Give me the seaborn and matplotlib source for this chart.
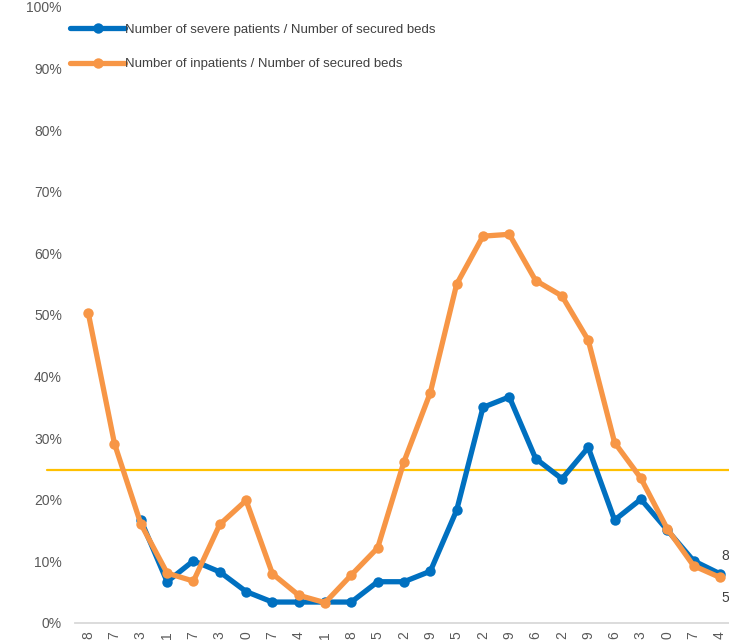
import numpy as np
import pandas as pd
import matplotlib
matplotlib.use("Agg")
import matplotlib.pyplot as plt
import seaborn as sns

# Week labels (only the final digit of each date is shown on the axis)
week_labels = ["8", "7", "3", "1", "7", "3", "0", "7", "4", "1", "8", "5", "2",
               "9", "5", "2", "9", "6", "2", "9", "6", "3", "0", "7", "4"]

# Ratio of severe patients to secured beds (no data for the first two weeks)
severe_ratio = [np.nan, np.nan, 0.167, 0.067, 0.101, 0.083, 0.051, 0.034, 0.034,
                0.034, 0.034, 0.067, 0.067, 0.084, 0.183, 0.350, 0.367, 0.267,
                0.234, 0.285, 0.167, 0.201, 0.151, 0.101, 0.080]

# Ratio of inpatients to secured beds
inpatient_ratio = [0.504, 0.291, 0.161, 0.081, 0.068, 0.160, 0.199, 0.080, 0.045,
                   0.033, 0.078, 0.122, 0.262, 0.374, 0.550, 0.628, 0.631, 0.556,
                   0.531, 0.459, 0.293, 0.235, 0.153, 0.093, 0.074]

threshold = 0.249

series_names = ["Number of severe patients / Number of secured beds",
                "Number of inpatients / Number of secured beds"]
series_colors = ["#0070C0", "#F79646"]

df = pd.DataFrame({
    "week": list(range(len(week_labels))) * 2,
    "ratio": severe_ratio + inpatient_ratio,
    "series": [series_names[0]] * len(week_labels) + [series_names[1]] * len(week_labels),
})

sns.set_style("white")
plt.rcParams["font.family"] = ["Liberation Sans", "DejaVu Sans"]

fig = plt.figure(figsize=(7.29, 6.42), dpi=100)
ax = fig.add_axes([0.1029, 0.0296, 0.9026, 0.9595])

sns.lineplot(data=df, x="week", y="ratio", hue="series", hue_order=series_names,
             palette=series_colors, marker="o", markersize=7.5, markeredgewidth=0,
             linewidth=3.8, ax=ax, legend=True, zorder=3)

# Reference line across the whole width
ax.axhline(threshold, xmin=-0.0426, xmax=1.0, color="#FFC000", linewidth=1.6,
           clip_on=False, zorder=2)

ax.set_xlim(-0.5, len(week_labels) - 0.5)
ax.set_ylim(0, 1)
ax.set_yticks(np.arange(0, 1.01, 0.1))
ax.set_yticklabels([f"{int(round(v * 100))}%" for v in np.arange(0, 1.01, 0.1)])
ax.set_xticks(range(len(week_labels)))
ax.set_xticklabels(week_labels, rotation=90, va="top")
ax.tick_params(axis="both", length=0, labelsize=10, labelcolor="#595959")
ax.tick_params(axis="y", pad=9.5)
ax.tick_params(axis="x", pad=6)
ax.set_xlabel("")
ax.set_ylabel("")

for side in ["left", "right", "top"]:
    ax.spines[side].set_visible(False)
ax.spines["bottom"].set_color("#D9D9D9")
ax.spines["bottom"].set_linewidth(1.3)

# Data labels at the right edge
last = len(week_labels) - 1
ax.annotate(f"{severe_ratio[-1] * 100:.0f}", xy=(last, severe_ratio[-1]),
            xytext=(1, 8), textcoords="offset points", fontsize=10,
            color="#404040", va="bottom", ha="left", annotation_clip=False)
ax.annotate("5", xy=(last, inpatient_ratio[-1]), xytext=(1, -10),
            textcoords="offset points", fontsize=10, color="#404040",
            va="top", ha="left", annotation_clip=False)

handles, labels = ax.get_legend_handles_labels()
ax.legend(handles, labels, loc="upper left", bbox_to_anchor=(0.096, 0.963),
          bbox_transform=fig.transFigure, frameon=False, fontsize=9.5,
          handlelength=4.2, handletextpad=0.0, labelspacing=1.68,
          borderpad=0, borderaxespad=0, labelcolor="#404040")

fig.savefig("out.png", dpi=100)
